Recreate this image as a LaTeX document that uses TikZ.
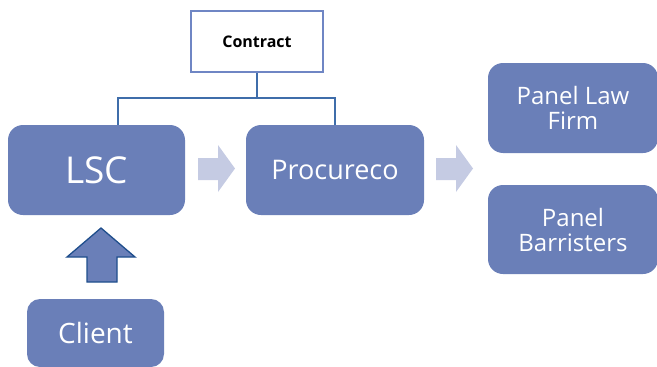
\documentclass[tikz,border=0pt]{standalone}
\usepackage{fontspec}
\usetikzlibrary{calc}
\setmainfont{Open Sans}
\definecolor{boxfill}{HTML}{6A7FB8}
\definecolor{arrowlight}{HTML}{C5CBE3}
\definecolor{linecol}{HTML}{3F6DAA}
\definecolor{contractborder}{HTML}{6F86C4}
\definecolor{uparrowborder}{HTML}{1F4E8C}
\tikzset{
  bluebox/.style={draw=none, fill=boxfill, rounded corners=15pt, text=white, align=center, inner sep=0pt},
  conn/.style={draw=linecol, line width=1.2pt},
  lightarrow/.style={fill=arrowlight, draw=none},
}
\begin{document}
\begin{tikzpicture}[x=1pt,y=-1pt]
\useasboundingbox (0,0) rectangle (657,367);
\node[draw=contractborder, line width=2pt, fill=white, minimum width=132pt, minimum height=61pt, inner sep=0pt, font=\bfseries\fontsize{16}{18}\selectfont] (contract) at (257,41.5) {Contract};
\node[bluebox, minimum width=177pt, minimum height=90pt, font=\fontsize{37}{40}\selectfont] (lsc) at (96.5,170) {LSC};
\node[bluebox, minimum width=178pt, minimum height=90pt, font=\fontsize{27}{30}\selectfont] (proc) at (335,170) {Procureco};
\node[bluebox, minimum width=170pt, minimum height=90pt, font=\fontsize{24}{25}\selectfont] (plf) at (573,108) {Panel Law\\Firm};
\node[bluebox, minimum width=170pt, minimum height=89pt, font=\fontsize{24}{25}\selectfont] (pb) at (573,229.5) {Panel\\Barristers};
\node[bluebox, minimum width=137pt, minimum height=68pt, rounded corners=13pt, font=\fontsize{28}{30}\selectfont] (client) at (95.5,333) {Client};
\coordinate (junc) at ($(contract.south)+(0,25)$);
\draw[conn] (contract.south) -- (junc);
\draw[conn] (junc) -| ([xshift=21.5pt]lsc.north);
\draw[conn] (junc) -| (proc.north);
% light arrows
\fill[lightarrow] (198,158) -- (218,158) -- (218,145) -- (235,168.5) -- (218,192) -- (218,180) -- (198,180) -- cycle;
\fill[lightarrow] (436,158) -- (456,158) -- (456,145) -- (473,168.5) -- (456,192) -- (456,180) -- (436,180) -- cycle;
% up arrow
\filldraw[fill=boxfill, draw=uparrowborder, line width=1.3pt, line join=miter] (87,282) -- (87,257) -- (67,257) -- (101,228) -- (135,257) -- (117,257) -- (117,282) -- cycle;
\end{tikzpicture}
\end{document}
